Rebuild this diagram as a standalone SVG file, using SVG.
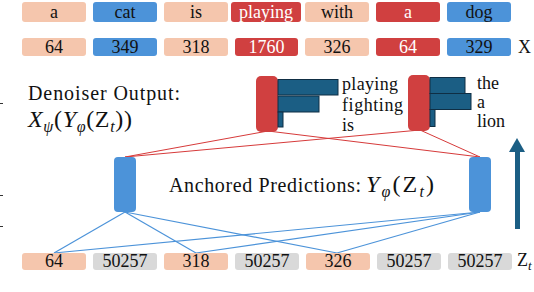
<svg xmlns="http://www.w3.org/2000/svg" width="534" height="292" viewBox="0 0 534 292">
<style>
text{font-family:"Liberation Serif","Times New Roman","DejaVu Serif",serif;fill:#111}
.tk{font-size:18px;text-anchor:middle}
.w{fill:#fff}
.pe{fill:#F5C6AD}
.bl{fill:#4C93D9}
.rd{fill:#D04040}
.gr{fill:#D9D9D9}
.bar{fill:#1B5E84;stroke:#0F2E44;stroke-width:1}
.rl{stroke:#D63A3A;stroke-width:1;fill:none}
.bln{stroke:#4C93D9;stroke-width:1.2;fill:none}
.lbl{font-size:20px}
.bt{font-size:18px}
.it{font-style:italic}
.sb{font-size:16px;font-style:italic}
</style>
<rect width="534" height="292" fill="#fff"/>
<g id="row-text">
<rect class="pe" x="22" y="2" width="64" height="20" rx="3"/><text class="tk" x="54" y="18">a</text>
<rect class="bl" x="93" y="2" width="64" height="20" rx="3"/><text class="tk" x="125" y="18">cat</text>
<rect class="pe" x="164" y="2" width="64" height="20" rx="3"/><text class="tk" x="196" y="18">is</text>
<rect class="rd" x="231" y="2" width="70" height="20" rx="3"/><text class="tk w" x="266" y="18">playing</text>
<rect class="pe" x="305" y="2" width="64" height="20" rx="3"/><text class="tk" x="337" y="18">with</text>
<rect class="rd" x="376" y="2" width="64" height="20" rx="3"/><text class="tk w" x="408" y="18">a</text>
<rect class="bl" x="447" y="2" width="64" height="20" rx="3"/><text class="tk" x="479" y="18">dog</text>
</g>
<g id="row-x">
<rect class="pe" x="22" y="38" width="64" height="18" rx="3"/><text class="tk" x="54" y="53">64</text>
<rect class="bl" x="93" y="38" width="64" height="18" rx="3"/><text class="tk" x="125" y="53">349</text>
<rect class="pe" x="164" y="38" width="64" height="18" rx="3"/><text class="tk" x="196" y="53">318</text>
<rect class="rd" x="235" y="38" width="63" height="18" rx="3"/><text class="tk w" x="266.5" y="53">1760</text>
<rect class="pe" x="305" y="38" width="64" height="18" rx="3"/><text class="tk" x="337" y="53">326</text>
<rect class="rd" x="376" y="38" width="64" height="18" rx="3"/><text class="tk w" x="408" y="53">64</text>
<rect class="bl" x="447" y="38" width="64" height="18" rx="3"/><text class="tk" x="479" y="53">329</text>
<text x="518" y="53" font-size="18">X</text>
</g>
<g id="connectors">
<line class="rl" x1="268" y1="131" x2="125" y2="157"/>
<line class="rl" x1="268" y1="131" x2="480" y2="157"/>
<line class="rl" x1="420" y1="130" x2="125" y2="157"/>
<line class="rl" x1="420" y1="130" x2="480" y2="157"/>
<line class="bln" x1="125" y1="212" x2="54" y2="253"/>
<line class="bln" x1="125" y1="212" x2="196" y2="253"/>
<line class="bln" x1="125" y1="212" x2="337" y2="253"/>
<line class="bln" x1="480" y1="212" x2="54" y2="253"/>
<line class="bln" x1="480" y1="212" x2="196" y2="253"/>
<line class="bln" x1="480" y1="212" x2="337" y2="253"/>
</g>
<g id="denoiser-left">
<rect class="rd" x="256" y="76" width="22" height="56" rx="5"/>
<rect class="bar" x="278" y="79.5" width="60" height="15.5"/>
<rect class="bar" x="278" y="96" width="41" height="16"/>
<rect class="bar" x="278" y="112" width="5" height="15"/>
<text class="bt" x="342" y="90" textLength="56">playing</text>
<text class="bt" x="342" y="111" textLength="61" lengthAdjust="spacing">fighting</text>
<text class="bt" x="342" y="131">is</text>
</g>
<g id="denoiser-right">
<rect class="rd" x="408" y="75" width="22" height="56" rx="5"/>
<rect class="bar" x="430" y="77.5" width="35" height="16"/>
<rect class="bar" x="430" y="93.5" width="41" height="16"/>
<line x1="432" y1="93.5" x2="464" y2="93.5" stroke="#0F2E44" stroke-width="1" stroke-dasharray="1,1"/>
<rect class="bar" x="430" y="109.5" width="5" height="17"/>
<text class="bt" x="477" y="89">the</text>
<text class="bt" x="477" y="108">a</text>
<text class="bt" x="477" y="127" textLength="28" lengthAdjust="spacing">lion</text>
</g>
<g id="denoiser-label">
<text class="lbl" x="28" y="100" textLength="152" lengthAdjust="spacing">Denoiser Output:</text>
<text x="28" y="127" font-size="24" textLength="104" lengthAdjust="spacing"><tspan class="it">X</tspan><tspan class="sb" dy="5">ψ</tspan><tspan dy="-5">(</tspan><tspan class="it">Y</tspan><tspan class="sb" dy="5">φ</tspan><tspan dy="-5">(Z</tspan><tspan class="sb" dy="5">t</tspan><tspan dy="-5">))</tspan></text>
</g>
<g id="anchor-left"><rect class="bl" x="114" y="157" width="22" height="55" rx="4"/></g>
<g id="anchor-right"><rect class="bl" x="469" y="157" width="22" height="55" rx="4"/></g>
<g id="anchor-label">
<text class="lbl" x="169" y="192" textLength="192" lengthAdjust="spacing">Anchored Predictions:</text>
<text x="366" y="192" font-size="24" textLength="68" lengthAdjust="spacing"><tspan class="it">Y</tspan><tspan class="sb" dy="5">φ</tspan><tspan dy="-5">(Z</tspan><tspan class="sb" dy="5">t</tspan><tspan dy="-5">)</tspan></text>
</g>
<g id="row-z">
<rect class="pe" x="22" y="253" width="64" height="17" rx="3"/><text class="tk" x="54" y="267">64</text>
<rect class="gr" x="93" y="253" width="64" height="17" rx="3"/><text class="tk" x="125" y="267">50257</text>
<rect class="pe" x="164" y="253" width="64" height="17" rx="3"/><text class="tk" x="196" y="267">318</text>
<rect class="gr" x="235" y="253" width="64" height="17" rx="3"/><text class="tk" x="267" y="267">50257</text>
<rect class="pe" x="306" y="253" width="64" height="17" rx="3"/><text class="tk" x="338" y="267">326</text>
<rect class="gr" x="377" y="253" width="64" height="17" rx="3"/><text class="tk" x="409" y="267">50257</text>
<rect class="gr" x="448" y="253" width="64" height="17" rx="3"/><text class="tk" x="480" y="267">50257</text>
<text x="517" y="266" font-size="18">Z<tspan font-size="13" font-style="italic" dy="4">t</tspan></text>
</g>
<g id="arrow">
<rect x="515" y="150" width="5" height="79" fill="#1B5E84"/>
<polygon points="509,152 525,152 517,138" fill="#1B5E84"/>
</g>
<g id="edge-marks" stroke="#333" stroke-width="1">
<line x1="0" y1="103.5" x2="3" y2="103.5"/>
<line x1="0" y1="195.5" x2="3" y2="195.5"/>
<line x1="0" y1="226.5" x2="3" y2="226.5"/>
</g>
</svg>
